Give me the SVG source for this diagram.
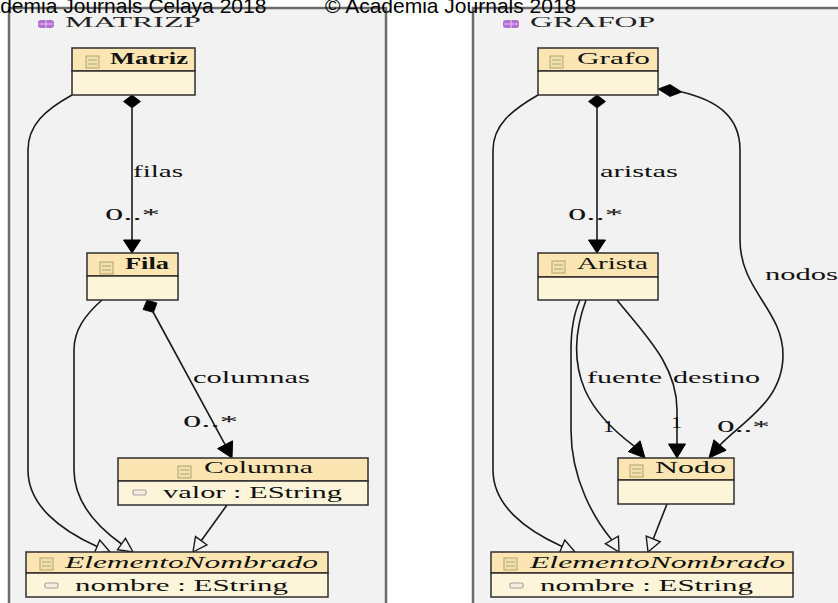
<svg xmlns="http://www.w3.org/2000/svg" width="838" height="603" viewBox="0 0 838 603">
<defs>
<style>
.frame{fill:#f2f2f2;stroke:#6b6b6b;stroke-width:2.5}
.hd{fill:#fbe6b3;stroke:#2e2e2e;stroke-width:1.5}
.bd{fill:#fdf5da;stroke:#2e2e2e;stroke-width:1.5}
.t{font-family:"Liberation Serif","Times New Roman",serif;font-size:16px;fill:#111}
.b{font-weight:bold}
.i{font-style:italic}
.wm{font-family:"Liberation Sans",Arial,sans-serif;font-size:21px;fill:#000}
.pk{font-family:"Liberation Serif","Times New Roman",serif;font-size:15px;fill:#222}
.edge{fill:none;stroke:#1a1a1a;stroke-width:1.6}
.fa{fill:#000;stroke:#000;stroke-width:1}
.oa{fill:#f2f2f2;stroke:#1a1a1a;stroke-width:1.4}
.dm{fill:#000;stroke:#000;stroke-width:0.8}
</style>
<g id="cicon">
<rect x="0" y="0" width="13" height="12" fill="#efe0b0" stroke="#b5a36a" stroke-width="1"/>
<line x1="2" y1="4" x2="11" y2="4" stroke="#b5a36a" stroke-width="1"/>
<line x1="2" y1="8" x2="11" y2="8" stroke="#b5a36a" stroke-width="1"/>
</g>
<g id="aicon"><rect x="0" y="0" width="13" height="5" rx="1.5" fill="#f4eee0" stroke="#b89aa0" stroke-width="1.2"/></g>
<g id="picon">
<rect x="0" y="0" width="16" height="8" rx="3" fill="#b26ed0"/>
<line x1="8" y1="0" x2="8" y2="8" stroke="#e6c8f0" stroke-width="1"/>
<line x1="1" y1="4" x2="15" y2="4" stroke="#e6c8f0" stroke-width="1"/>
</g>
</defs>

<rect x="0" y="0" width="838" height="603" fill="#ffffff"/>
<rect class="frame" x="9" y="8" width="377" height="620"/>
<rect class="frame" x="473" y="8" width="400" height="620"/>

<g id="watermark">
<text class="wm" x="-36" y="13">Academia Journals Celaya 2018</text>
<text class="wm" x="325" y="13">© Academia Journals 2018</text>
</g>

<g id="pkg-matrizp">
<use href="#picon" x="38" y="20"/>
<text class="pk" x="65" y="27" textLength="136" lengthAdjust="spacingAndGlyphs">MATRIZP</text>
</g>
<g id="pkg-grafop">
<use href="#picon" x="503" y="20"/>
<text class="pk" x="530" y="27" textLength="125" lengthAdjust="spacingAndGlyphs">GRAFOP</text>
</g>

<g id="connectors">
<!-- Matriz -> Fila (filas) -->
<polygon class="dm" points="132,95 140.5,101.5 132,108 123.5,101.5"/>
<path class="edge" d="M132,108 L132,240"/>
<polygon class="fa" points="132,253 123.5,240 140.5,240"/>
<text class="t" x="133" y="177" textLength="50" lengthAdjust="spacingAndGlyphs">filas</text>
<text class="t" x="105" y="220" textLength="55" lengthAdjust="spacingAndGlyphs">0..*</text>

<!-- Matriz -> ElementoNombrado -->
<path class="edge" d="M72,95 C45,110 28,125 28,150 L28,470 C28,505 60,530 97,546.5"/>
<polygon class="oa" points="110,552 99.8,540.1 94.4,552.9"/>

<!-- Fila -> ElementoNombrado -->
<path class="edge" d="M102,300 C85,315 74,330 74,350 L74,470 C74,500 95,525 121.5,544"/>
<polygon class="oa" points="133,552 125.5,538.3 117.5,549.7"/>

<!-- Fila -> Columna (columnas) -->
<polygon class="dm" points="147,300 157,303 153.5,312.4 143,309.5"/>
<path class="edge" d="M152,310 L225.1,444.7"/>
<polygon class="fa" points="232,458 232.6,440.8 217.6,448.6"/>
<text class="t" x="193" y="383" textLength="117" lengthAdjust="spacingAndGlyphs">columnas</text>
<text class="t" x="183" y="427" textLength="55" lengthAdjust="spacingAndGlyphs">0..*</text>

<!-- Columna -> ElementoNombrado -->
<path class="edge" d="M227,505 L201.2,540.7"/>
<polygon class="oa" points="193,552 206.9,544.8 195.5,536.6"/>

<!-- Grafo -> Arista (aristas) -->
<polygon class="dm" points="597,95 605.5,101.5 597,108 588.5,101.5"/>
<path class="edge" d="M597,108 L597,240"/>
<polygon class="fa" points="597,253 588.5,240 605.5,240"/>
<text class="t" x="600" y="177" textLength="78" lengthAdjust="spacingAndGlyphs">aristas</text>
<text class="t" x="568" y="220" textLength="55" lengthAdjust="spacingAndGlyphs">0..*</text>

<!-- Grafo -> Nodo (nodos) -->
<polygon class="dm" points="658,89 670,84.5 682,92 670,96.5"/>
<path class="edge" d="M682,92 C715,100 740,115 740,150 L740,240 C740,290 783,310 783,355 C783,400 745,420 720,445"/>
<polygon class="fa" points="709,458 726.1,450.2 713.9,439.8"/>
<text class="t" x="765" y="280" textLength="73" lengthAdjust="spacingAndGlyphs">nodos</text>
<text class="t" x="717" y="432" textLength="53" lengthAdjust="spacingAndGlyphs">0..*</text>

<!-- Grafo -> ElementoNombrado -->
<path class="edge" d="M538,95 C512,110 493,125 493,150 L493,470 C493,505 525,530 562,546.4"/>
<polygon class="oa" points="575,552 564.8,540.1 559.4,552.9"/>

<!-- Arista -> ElementoNombrado -->
<path class="edge" d="M580,300 C573,315 571,330 571,350 L571,430 C571,480 595,520 611.9,539.9"/>
<polygon class="oa" points="619,552 618.4,536.1 605.4,543.7"/>

<!-- Arista -> Nodo (fuente) -->
<path class="edge" d="M586,300 C575,330 572,360 585,390 C596,415 618,434 634.2,446.2"/>
<polygon class="fa" points="645,458 640.1,440.8 628.3,451.6"/>
<text class="t" x="587" y="383" textLength="75" lengthAdjust="spacingAndGlyphs">fuente</text>
<text class="t" x="603" y="432" textLength="11" lengthAdjust="spacingAndGlyphs">1</text>

<!-- Arista -> Nodo (destino) -->
<path class="edge" d="M617,300 C645,335 677,365 677,410 L677,444"/>
<polygon class="fa" points="677,458 668.5,444 685.5,444"/>
<text class="t" x="673" y="383" textLength="87" lengthAdjust="spacingAndGlyphs">destino</text>
<text class="t" x="671" y="428" textLength="11" lengthAdjust="spacingAndGlyphs">1</text>

<!-- Nodo -> ElementoNombrado -->
<path class="edge" d="M667,504 L653.2,539"/>
<polygon class="oa" points="648,552 660.2,541.8 646.2,536.2"/>
</g>

<g id="node-matriz">
<rect class="hd" x="72" y="48" width="123" height="23"/>
<rect class="bd" x="72" y="71" width="123" height="24"/>
<use href="#cicon" x="86" y="56"/>
<text class="t b" x="110" y="64" textLength="78" lengthAdjust="spacingAndGlyphs">Matriz</text>
</g>

<g id="node-fila">
<rect class="hd" x="87" y="253" width="91" height="23"/>
<rect class="bd" x="87" y="276" width="91" height="24"/>
<use href="#cicon" x="100" y="262"/>
<text class="t b" x="125" y="269" textLength="44" lengthAdjust="spacingAndGlyphs">Fila</text>
</g>

<g id="node-columna">
<rect class="hd" x="118" y="458" width="250" height="23"/>
<rect class="bd" x="118" y="481" width="250" height="24"/>
<use href="#cicon" x="178" y="466"/>
<text class="t" x="204" y="473" textLength="109" lengthAdjust="spacingAndGlyphs">Columna</text>
<use href="#aicon" x="133" y="490"/>
<text class="t" x="163" y="498" textLength="179" lengthAdjust="spacingAndGlyphs">valor : EString</text>
</g>

<g id="node-elementonombrado-m">
<rect class="hd" x="26" y="552" width="302" height="21"/>
<rect class="bd" x="26" y="573" width="302" height="24"/>
<use href="#cicon" x="40" y="558"/>
<text class="t i" x="65" y="568" textLength="253" lengthAdjust="spacingAndGlyphs">ElementoNombrado</text>
<use href="#aicon" x="45" y="583"/>
<text class="t" x="75" y="591" textLength="213" lengthAdjust="spacingAndGlyphs">nombre : EString</text>
</g>

<g id="node-grafo">
<rect class="hd" x="538" y="48" width="120" height="23"/>
<rect class="bd" x="538" y="71" width="120" height="24"/>
<use href="#cicon" x="550" y="56"/>
<text class="t" x="577" y="64" textLength="73" lengthAdjust="spacingAndGlyphs">Grafo</text>
</g>

<g id="node-arista">
<rect class="hd" x="538" y="253" width="120" height="24"/>
<rect class="bd" x="538" y="277" width="120" height="23"/>
<use href="#cicon" x="552" y="261"/>
<text class="t" x="577" y="269" textLength="71" lengthAdjust="spacingAndGlyphs">Arista</text>
</g>

<g id="node-nodo">
<rect class="hd" x="618" y="458" width="116" height="22"/>
<rect class="bd" x="618" y="480" width="116" height="24"/>
<use href="#cicon" x="630" y="465"/>
<text class="t" x="655" y="473" textLength="71" lengthAdjust="spacingAndGlyphs">Nodo</text>
</g>

<g id="node-elementonombrado-g">
<rect class="hd" x="491" y="552" width="302" height="21"/>
<rect class="bd" x="491" y="573" width="302" height="24"/>
<use href="#cicon" x="504" y="558"/>
<text class="t i" x="530" y="568" textLength="255" lengthAdjust="spacingAndGlyphs">ElementoNombrado</text>
<use href="#aicon" x="510" y="583"/>
<text class="t" x="540" y="591" textLength="213" lengthAdjust="spacingAndGlyphs">nombre : EString</text>
</g>
</svg>
